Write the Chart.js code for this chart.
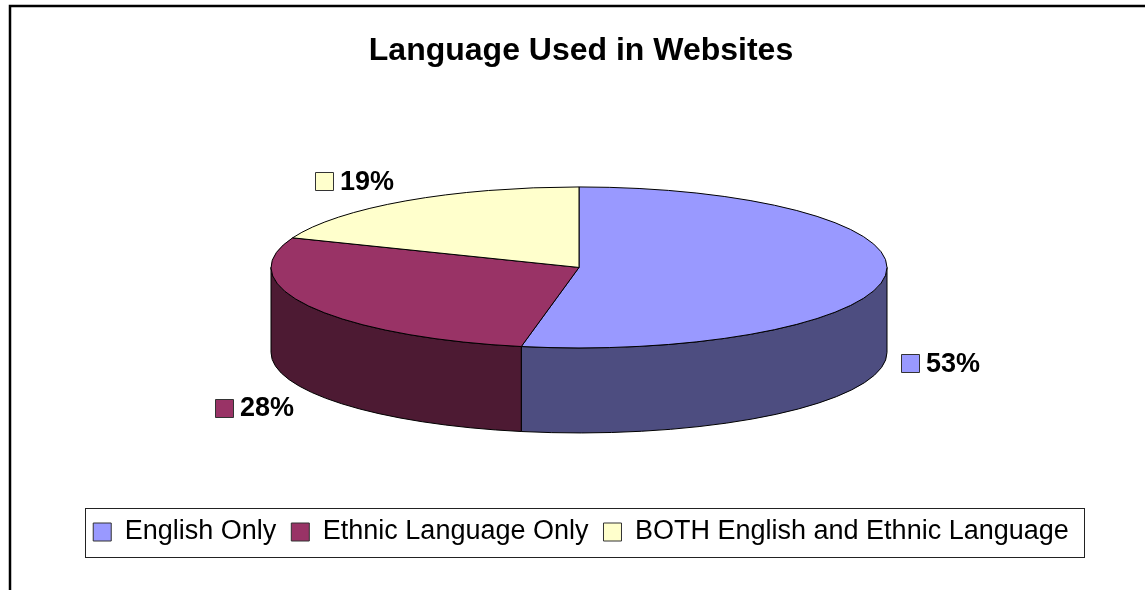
<!DOCTYPE html>
<html>
<head>
<meta charset="utf-8">
<title>Language Used in Websites</title>
<script src="https://cdn.jsdelivr.net/npm/chart.js@4.4.1/dist/chart.umd.min.js"></script>
<style>
  html, body { margin: 0; padding: 0; background: #fff; }
  canvas { display: block; }
</style>
</head>
<body>
<canvas id="languageChart" width="1145" height="590"></canvas>
<script>
const categories = ['English Only', 'Ethnic Language Only', 'BOTH English and Ethnic Language'];
const shares = [53, 28, 19];
const sliceColors = ['#9999FF', '#993366', '#FFFFCC'];

// shape of the tilted pie
const PIE_RX = 308;
const PIE_RY = 80.5;
const PIE_DEPTH = 85;
const PIE_SHIFT = -2;
const LABEL_GAP = 55;
const FONT = "'Liberation Sans', Arial, sans-serif";

Chart.defaults.font.family = FONT;
Chart.defaults.color = '#000';

// half brightness for the side walls
function darken(hex) {
    const n = parseInt(hex.slice(1), 16);
    const r = Math.round(((n >> 16) & 255) / 2);
    const g = Math.round(((n >> 8) & 255) / 2);
    const b = Math.round((n & 255) / 2);
    return 'rgb(' + r + ',' + g + ',' + b + ')';
}

const framePlugin = {
    id: 'frame',
    beforeDraw(chart) {
        const ctx = chart.ctx;
        ctx.save();
        ctx.strokeStyle = '#000';
        ctx.lineWidth = 2.5;
        ctx.strokeRect(10, 6, chart.width + 50, chart.height + 50);
        ctx.restore();
    },
    afterDraw(chart) {
        // box around the legend row
        const boxes = chart.legend.legendHitBoxes;
        if (!boxes || !boxes.length) return;
        const first = boxes[0];
        const last = boxes[boxes.length - 1];
        const ctx = chart.ctx;
        ctx.save();
        ctx.strokeStyle = '#222';
        ctx.lineWidth = 1;
        const left = Math.round(first.left - 8) + 0.5;
        const right = Math.round(last.left + last.width + 15) + 0.5;
        const top = Math.round(first.top - 11) + 0.5;
        const bottom = Math.round(first.top + first.height + 11) + 0.5;
        ctx.strokeRect(left, top, right - left, bottom - top);
        ctx.restore();
    }
};

const pie3dPlugin = {
    id: 'pie3d',
    beforeDatasetsDraw(chart) {
        const ctx = chart.ctx;
        const arcs = chart.getDatasetMeta(0).data;
        if (!arcs.length) return false;
        const cx = arcs[0].x + PIE_SHIFT;
        const cy = arcs[0].y - PIE_DEPTH / 2;

        ctx.save();
        ctx.lineWidth = 1;
        ctx.strokeStyle = '#000';
        ctx.lineJoin = 'round';

        // front walls
        arcs.forEach((arc, i) => {
            for (const k of [-1, 0]) {
                const lo = Math.max(arc.startAngle + 2 * Math.PI * k, 0);
                const hi = Math.min(arc.endAngle + 2 * Math.PI * k, Math.PI);
                if (hi <= lo) continue;
                ctx.beginPath();
                ctx.ellipse(cx, cy, PIE_RX, PIE_RY, 0, lo, hi, false);
                ctx.lineTo(cx + PIE_RX * Math.cos(hi), cy + PIE_DEPTH + PIE_RY * Math.sin(hi));
                ctx.ellipse(cx, cy + PIE_DEPTH, PIE_RX, PIE_RY, 0, hi, lo, true);
                ctx.closePath();
                ctx.fillStyle = darken(sliceColors[i]);
                ctx.fill();
                ctx.stroke();
            }
        });

        // top faces
        arcs.forEach((arc, i) => {
            ctx.beginPath();
            ctx.moveTo(cx, cy);
            ctx.ellipse(cx, cy, PIE_RX, PIE_RY, 0, arc.startAngle, arc.endAngle, false);
            ctx.closePath();
            ctx.fillStyle = sliceColors[i];
            ctx.fill();
            ctx.stroke();
        });

        // percentage labels with colour keys
        ctx.font = 'bold 27px ' + FONT;
        ctx.textBaseline = 'middle';
        ctx.textAlign = 'left';
        arcs.forEach((arc, i) => {
            const mid = (arc.startAngle + arc.endAngle) / 2;
            const c = Math.cos(mid);
            const s = Math.sin(mid);
            const ax = cx + PIE_RX * c;
            const ay = cy + PIE_RY * s + (s > 0 ? PIE_DEPTH : 0);
            let dx = c;
            let dy = s * PIE_RY / PIE_RX;
            const len = Math.hypot(dx, dy);
            dx /= len;
            dy /= len;
            const lx = ax + dx * LABEL_GAP;
            const ly = ay + dy * LABEL_GAP + Math.max(s, 0) * 18;
            const text = shares[i] + '%';
            const w = 18 + 7 + ctx.measureText(text).width;
            const x0 = Math.round(lx - w / 2);
            const y0 = Math.round(ly - 9);
            ctx.fillStyle = sliceColors[i];
            ctx.fillRect(x0 + 0.5, y0 + 0.5, 18, 18);
            ctx.strokeStyle = '#333';
            ctx.strokeRect(x0 + 0.5, y0 + 0.5, 18, 18);
            ctx.fillStyle = '#000';
            ctx.fillText(text, x0 + 25, ly + 1);
        });

        ctx.restore();
        return false;
    }
};

new Chart(document.getElementById('languageChart'), {
    type: 'pie',
    data: {
        labels: categories,
        datasets: [{
            data: shares,
            backgroundColor: sliceColors,
            borderColor: '#333',
            borderWidth: 1
        }]
    },
    options: {
        responsive: false,
        animation: false,
        layout: {
            padding: { left: 17, right: 0, top: 0, bottom: 34.5 }
        },
        plugins: {
            title: {
                display: true,
                text: 'Language Used in Websites',
                font: { size: 32, weight: 'bold' },
                padding: { top: 32, bottom: 46 }
            },
            legend: {
                position: 'bottom',
                labels: {
                    font: { size: 27 },
                    boxWidth: 18,
                    boxHeight: 18,
                    padding: 15,
                    color: '#000'
                }
            },
            tooltip: { enabled: false }
        }
    },
    plugins: [framePlugin, pie3dPlugin]
});
</script>
</body>
</html>
